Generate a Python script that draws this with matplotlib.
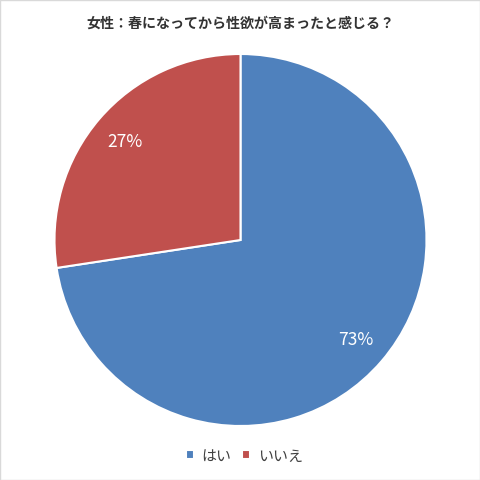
import matplotlib
matplotlib.use("Agg")
import matplotlib.pyplot as plt
from matplotlib.patches import Rectangle

plt.rcParams['font.family'] = ['Noto Sans CJK JP', 'DejaVu Sans']

title = "女性：春になってから性欲が高まったと感じる？"
categories = ["はい", "いいえ"]
values = [72.6, 27.4]
colors = ["#4F81BD", "#C0504D"]

fig = plt.figure(figsize=(4.81, 4.81), dpi=100)
r = 186 / 481
cx, cy = 240.5 / 481, (481 - 241) / 481
ax = fig.add_axes([cx - r, cy - r, 2 * r, 2 * r])
wedges, texts, autotexts = ax.pie(
    values, colors=colors, startangle=90, counterclock=False,
    autopct=lambda p: f"{p:.0f}%", pctdistance=0.82,
    wedgeprops=dict(edgecolor="white", linewidth=1.5),
    textprops=dict(color="white", fontsize=12.5))
ax.set_xlim(-1, 1)
ax.set_ylim(-1, 1)
ax.set_aspect("equal")
ax.axis("off")

fig.text(0.5, 1 - 24 / 481, title, ha="center", va="center",
         fontsize=10.1, fontweight="bold", color="#333333")

leg = fig.legend(wedges, categories, loc="center", bbox_to_anchor=(244.5 / 481, 1 - 457 / 481),
                 ncol=2, frameon=False, fontsize=10.8, handlelength=0.55, handleheight=0.55,
                 handletextpad=0.5, columnspacing=0.7, labelcolor="#404040",
                 borderaxespad=0, borderpad=0)

fig.patches.append(Rectangle((0.001, 0.001), 0.997, 0.997, transform=fig.transFigure,
                             fill=False, edgecolor="#D9D9D9", linewidth=1))
fig.savefig("out.png", dpi=100, facecolor="white")
